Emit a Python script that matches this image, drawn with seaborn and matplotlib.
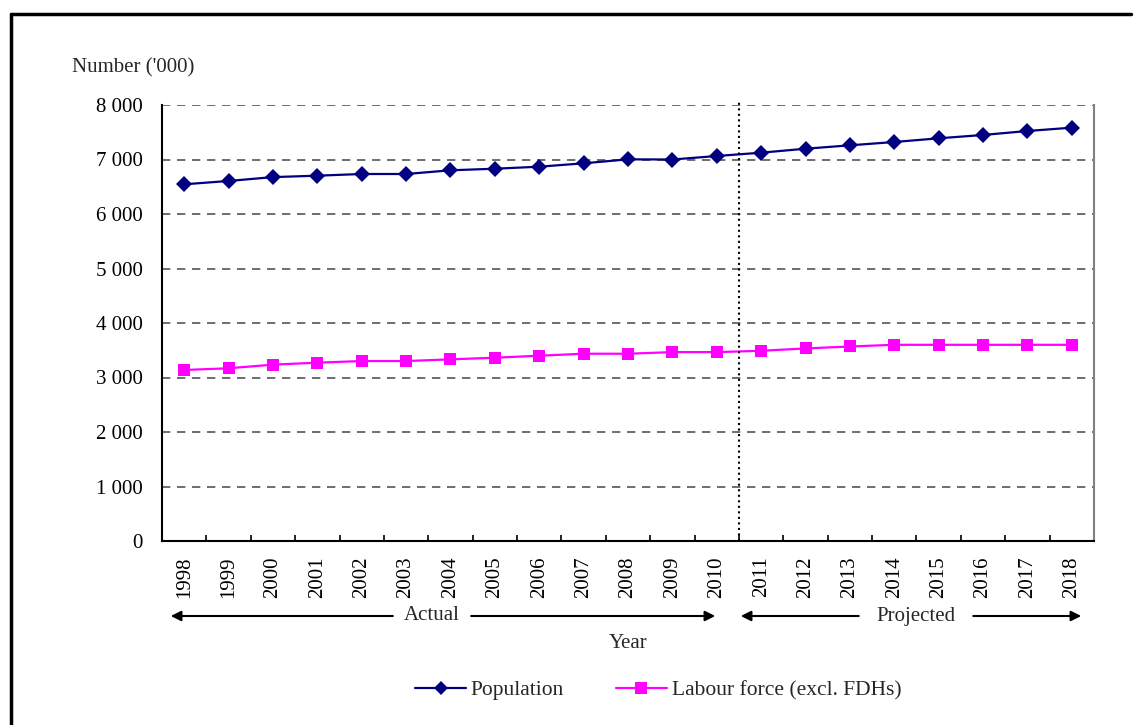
import matplotlib
matplotlib.use("Agg")
import matplotlib.pyplot as plt
from matplotlib.lines import Line2D
import seaborn as sns
import pandas as pd

years = [str(y) for y in range(1998, 2019)]
population = [6545, 6606, 6677, 6703, 6734, 6734, 6802, 6831, 6868, 6930, 7003,
              7000, 7064, 7125, 7198, 7260, 7321, 7389, 7450, 7523, 7584]
labour_force = [3138, 3169, 3236, 3272, 3302, 3302, 3333, 3363, 3400, 3436, 3436,
                3466, 3466, 3490, 3533, 3569, 3600, 3600, 3600, 3600, 3600]
series_names = ["Population", "Labour force (excl. FDHs)"]
y_ticks = [0, 1000, 2000, 3000, 4000, 5000, 6000, 7000, 8000]

sns.set_theme(style="white")
plt.rcParams["font.family"] = ["Liberation Serif", "DejaVu Serif"]

df = pd.DataFrame({
    "idx": list(range(len(years))) * 2,
    "value": population + labour_force,
    "series": [series_names[0]] * len(years) + [series_names[1]] * len(years),
})

fig = plt.figure(figsize=(11.35, 7.25), dpi=100)
ax = fig.add_axes([162 / 1135, 1 - 541 / 725, (1094 - 162) / 1135, (541 - 105) / 725])

palette = {series_names[0]: "#000080", series_names[1]: "#FF00FF"}
markers = {series_names[0]: "D", series_names[1]: "s"}
sns.lineplot(data=df, x="idx", y="value", hue="series", style="series",
             palette=palette, markers=markers, dashes=False, markersize=8.5,
             markeredgewidth=0, linewidth=1.6, ax=ax, legend=False)

ax.set_xlim(-0.5, len(years) - 0.5)
ax.set_ylim(0, 8000)
ax.set_yticks(y_ticks)
ax.set_yticklabels([f"{v:,}".replace(",", " ") for v in y_ticks], fontsize=15)
ax.set_xticks(range(len(years)))
ax.set_xticklabels(years, rotation=90, fontsize=15)
ax.set_xticks([i - 0.5 for i in range(len(years) + 1)], minor=True)
ax.tick_params(axis="x", which="major", length=0, pad=11, colors="black")
ax.tick_params(axis="x", which="minor", direction="in", length=4, width=1.2,
               color="black", bottom=True)
ax.tick_params(axis="y", length=0, pad=14, colors="black")

ax.grid(False)
for v in y_ticks[1:]:
    ax.axhline(v, color="#555555", linewidth=1.2, linestyle=(0, (5, 4)), zorder=0)

for side in ["left", "bottom"]:
    ax.spines[side].set_color("black")
    ax.spines[side].set_linewidth(1.5)
ax.spines["top"].set_visible(False)
ax.spines["right"].set_color("#808080")
ax.spines["right"].set_linewidth(1.5)

# boundary between actual and projected years
ax.axvline(12.5, ymin=0, ymax=1.01, color="black", linestyle=":", linewidth=1.5,
           clip_on=False)

ax.set_xlabel("")
ax.set_ylabel("")
fig.text(72 / 1135, 1 - 68 / 725, "Number ('000)", fontsize=15, ha="left", va="center")
fig.text(628 / 1135, 1 - 643 / 725, "Year", fontsize=15, ha="center", va="center")

# period arrows below the year labels
ay = 1 - 616 / 725
def period_arrow(x0, x1, label, xc):
    fx0, fx1, fxc = x0 / 1135, x1 / 1135, xc / 1135
    half = 0.032 if label == "Actual" else 0.048
    fig.add_artist(matplotlib.patches.FancyArrowPatch(
        (fxc - half, ay), (fx0, ay), transform=fig.transFigure,
        arrowstyle="-|>,head_length=6,head_width=3", color="black", lw=1.5))
    fig.add_artist(matplotlib.patches.FancyArrowPatch(
        (fxc + half, ay), (fx1, ay), transform=fig.transFigure,
        arrowstyle="-|>,head_length=6,head_width=3", color="black", lw=1.5))
    fig.text(fxc, ay, label, fontsize=15, ha="center", va="center")

period_arrow(168, 718, "Actual", 432)
period_arrow(738, 1084, "Projected", 916)

handles = [
    Line2D([], [], color="#000080", marker="D", markersize=7, markeredgewidth=0, lw=1.6),
    Line2D([], [], color="#FF00FF", marker="s", markersize=8, markeredgewidth=0, lw=1.6),
]
fig.legend(handles, series_names, loc="center", bbox_to_anchor=(658 / 1135, 1 - 690 / 725),
           ncol=2, frameon=False, fontsize=15.5, handlelength=2.4, handletextpad=0.2,
           columnspacing=2.4)

# chart frame
fig.add_artist(Line2D([11 / 1135, 1131 / 1135], [1 - 14 / 725, 1 - 14 / 725],
                      transform=fig.transFigure, color="black", lw=2.5))
fig.add_artist(Line2D([11 / 1135, 11 / 1135], [1 - 14 / 725, 0],
                      transform=fig.transFigure, color="black", lw=2.5))

fig.savefig("out.png", dpi=100, facecolor="white")
